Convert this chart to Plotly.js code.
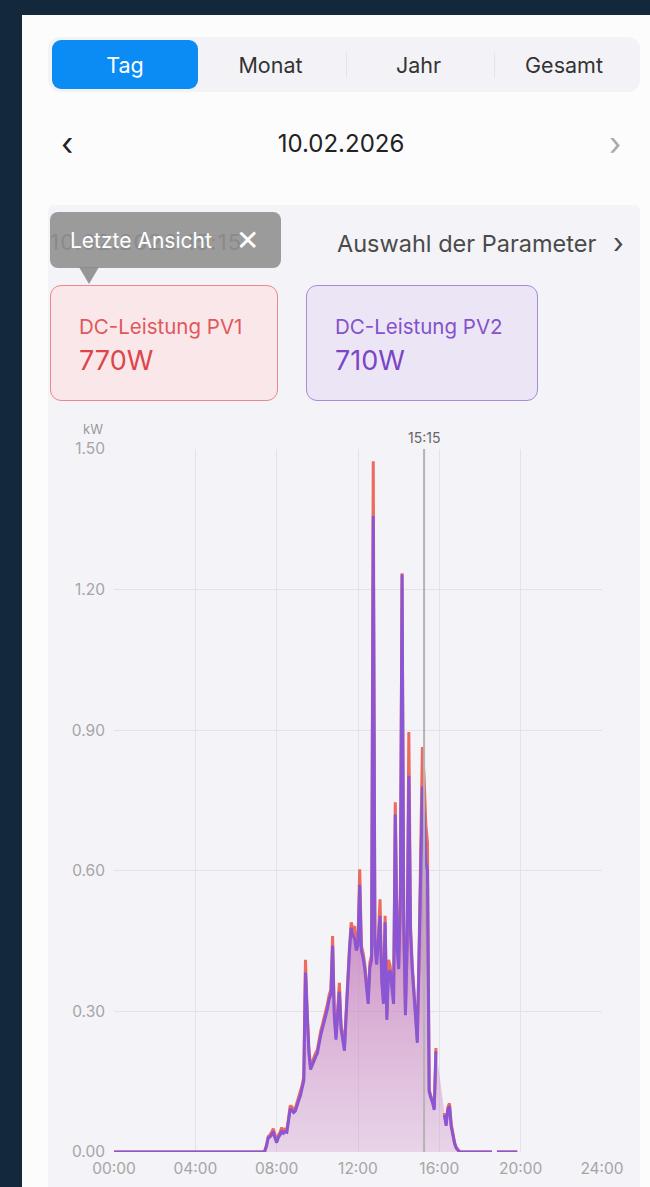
<!DOCTYPE html>
<html>
<head>
<meta charset="utf-8">
<script src="https://cdn.plot.ly/plotly-3.0.1.min.js"></script>
<style>
  html,body{margin:0;padding:0;}
  body{width:650px;height:1187px;background:#13283a;position:relative;overflow:hidden;font-family:Inter,"Noto Sans",sans-serif;}
  .panel{position:absolute;left:22px;top:15px;width:628px;height:1172px;background:#fcfcfd;}
  .tabs{position:absolute;left:48px;top:37px;width:592px;height:55px;background:#f3f3f7;border-radius:12px;}
  .tab{position:absolute;top:3px;height:49px;line-height:50px;text-align:center;font-size:21.5px;color:#333;}
  .tab.on{background:#0b8cf4;color:#fff;border-radius:9px;}
  .sep{position:absolute;top:15px;width:1px;height:26px;background:#e4e4ea;}
  .date{position:absolute;left:16px;width:650px;top:129px;text-align:center;font-size:24px;color:#222;box-sizing:border-box;}
  .chev{position:absolute;top:124px;font-size:32px;}
  .card{position:absolute;left:48px;top:205px;width:592px;height:982px;background:#f4f3f8;border-radius:6px 6px 0 0;}
  .ghost{position:absolute;left:50px;top:229px;font-size:22px;letter-spacing:1.2px;color:#7d7d7d;}
  .tip{position:absolute;left:50px;top:212px;width:231px;height:56px;background:rgba(140,140,140,0.86);border-radius:8px;}
  .tiparrow{position:absolute;left:79px;top:267px;width:0;height:0;border-left:10px solid transparent;border-right:10px solid transparent;border-top:17px solid rgba(140,140,140,0.9);}
  .tiptext{position:absolute;left:70px;top:228px;font-size:21px;color:#fff;}
  .tipx{position:absolute;left:236px;top:223px;font-size:28px;color:#fff;font-weight:300;}
  .param{position:absolute;left:337px;top:229px;font-size:23.5px;color:#4a4a4a;}
  .pchev{position:absolute;left:613px;top:226px;font-size:28px;color:#4a4a4a;}
  .pcard{position:absolute;top:285px;height:116px;border-radius:11px;box-sizing:border-box;}
  .pv1{left:50px;width:228px;background:#fae7e9;border:1.5px solid #e9898c;}
  .pv2{left:306px;width:232px;background:#ece5f6;border:1.5px solid #a98bd9;}
  .plabel{position:absolute;left:28px;top:28px;font-size:20.5px;}
  .pval{position:absolute;left:28px;top:58px;font-size:27px;}
  #chart{position:absolute;left:48px;top:400px;width:592px;height:787px;}
</style>
</head>
<body>
<div class="panel"></div>
<div class="tabs">
  <div class="tab on" style="left:4px;width:146px;">Tag</div>
  <div class="tab" style="left:150px;width:145px;">Monat</div>
  <div class="sep" style="left:298px;"></div>
  <div class="tab" style="left:298px;width:145px;">Jahr</div>
  <div class="sep" style="left:446px;"></div>
  <div class="tab" style="left:446px;width:140px;">Gesamt</div>
</div>
<div class="chev" style="left:61px;color:#222;">&#x2039;</div>
<div class="date">10.02.2026</div>
<div class="chev" style="left:609px;color:#aaa;">&#x203A;</div>
<div class="card"></div>
<div class="ghost">10.02.2026 15:15</div>
<div class="tip"></div>
<div class="tiparrow"></div>
<div class="tiptext">Letzte Ansicht</div>
<div class="tipx">&#x2715;</div>
<div class="param">Auswahl der Parameter</div>
<div class="pchev">&#x203A;</div>
<div class="pcard pv1"><div class="plabel" style="color:#e0585c;">DC-Leistung PV1</div><div class="pval" style="color:#de4549;">770W</div></div>
<div class="pcard pv2"><div class="plabel" style="color:#8452c9;">DC-Leistung PV2</div><div class="pval" style="color:#7b45c4;">710W</div></div>
<div id="chart"></div>
<script>
// time of day (HH:MM)
const times = ["00:00","07:20","07:25","07:30","07:35","07:40","07:45","07:50","07:55",
"08:00","08:05","08:10","08:15","08:20","08:25","08:30","08:35","08:40","08:45","08:50","08:55",
"09:00","09:05","09:10","09:15","09:20","09:25","09:30","09:35","09:40","09:45","09:50","09:55",
"10:00","10:05","10:10","10:15","10:20","10:25","10:30","10:35","10:40","10:45","10:50","10:55",
"11:00","11:05","11:10","11:15","11:20","11:25","11:30","11:35","11:40","11:45","11:50","11:55",
"12:00","12:05","12:10","12:15","12:20","12:25","12:30","12:35","12:40","12:45","12:50","12:55",
"13:00","13:05","13:10","13:15","13:20","13:25","13:30","13:35","13:40","13:45","13:50","13:55",
"14:00","14:05","14:10","14:15","14:20","14:25","14:30","14:35","14:40","14:45","14:50","14:55",
"15:00","15:05","15:10","15:15","15:20","15:25","15:30","15:35","15:40","15:45","15:50","15:55",
"16:00","16:05","16:10","16:15","16:20","16:25","16:30","16:35","16:40","16:45","16:50","16:55",
"17:00","18:35","18:40","18:50","19:50"];
// DC-Leistung PV1 (kW)
const pv1 = [0,0,0.003,0.015,0.033,0.036,0.042,0.05,0.036,
0.024,0.036,0.042,0.052,0.045,0.049,0.047,0.072,0.099,0.096,0.09,0.093,
0.106,0.116,0.127,0.142,0.16,0.41,0.30,0.222,0.183,0.193,0.204,0.211,
0.218,0.242,0.258,0.272,0.286,0.30,0.316,0.336,0.346,0.461,0.30,0.248,
0.30,0.361,0.272,0.247,0.225,0.30,0.38,0.44,0.49,0.475,0.482,0.44,
0.45,0.603,0.44,0.425,0.40,0.36,0.325,0.404,0.42,1.474,0.45,0.411,
0.46,0.539,0.375,0.325,0.504,0.29,0.41,0.397,0.36,0.325,0.746,0.497,
0.40,0.55,1.235,0.497,0.30,0.45,0.896,0.482,0.40,0.34,0.28,0.24,
0.42,0.66,0.864,0.80,0.70,0.66,0.133,0.12,0.11,0.094,0.222,null,
null,null,null,0.083,0.06,0.095,0.104,0.06,0.04,0.02,0.01,0.004,
0,0,null,0,0];
// DC-Leistung PV2 (kW)
const pv2 = [0,0,0.002,0.012,0.03,0.032,0.036,0.044,0.03,
0.02,0.031,0.036,0.046,0.04,0.043,0.042,0.066,0.092,0.089,0.084,0.087,
0.1,0.11,0.12,0.134,0.152,0.383,0.285,0.212,0.176,0.186,0.196,0.203,
0.21,0.233,0.249,0.263,0.277,0.29,0.306,0.326,0.336,0.44,0.29,0.24,
0.29,0.342,0.262,0.238,0.216,0.29,0.37,0.43,0.478,0.462,0.455,0.43,
0.44,0.57,0.43,0.414,0.39,0.35,0.316,0.393,0.41,1.357,0.44,0.40,
0.45,0.504,0.365,0.316,0.49,0.282,0.383,0.387,0.35,0.316,0.72,0.44,
0.39,0.54,1.232,0.485,0.292,0.44,0.803,0.47,0.39,0.332,0.272,0.233,
0.41,0.62,0.78,0.72,0.62,0.60,0.128,0.115,0.105,0.09,0.215,null,
null,null,null,0.079,0.056,0.09,0.098,0.055,0.036,0.018,0.008,0.003,
0,0,null,0,0];
const xTickVals = [0,4,8,12,16,20,24];
const xTickText = ["00:00","04:00","08:00","12:00","16:00","20:00","24:00"];
const yTickVals = [0,0.3,0.6,0.9,1.2,1.5];
const cursorTime = "15:15";

const toH = s => { const p = s.split(":"); return (+p[0]) + (+p[1])/60; };
const hx = times.map(toH);

const traces = [
  {x: hx, y: pv1, type:"scatter", mode:"lines", name:"DC-Leistung PV1",
   line:{color:"#ec6a5e", width:3}, connectgaps:false,
   fill:"tozeroy",
   fillgradient:{type:"vertical", start:0, stop:0.5,
     colorscale:[[0,"rgba(208,150,200,0.34)"],[1,"rgba(194,118,184,0.8)"]]}},
  {x: hx, y: pv2, type:"scatter", mode:"lines", name:"DC-Leistung PV2",
   line:{color:"#8a56d4", width:3}, connectgaps:false}
];
const ch = toH(cursorTime);
const layout = {
  width:592, height:787,
  margin:{l:66, r:38, t:49, b:35},
  paper_bgcolor:"rgba(0,0,0,0)", plot_bgcolor:"rgba(0,0,0,0)",
  showlegend:false,
  font:{family:"Inter, sans-serif", color:"#a5a5a5", size:15},
  xaxis:{range:[0,24], tickvals:xTickVals, ticktext:xTickText, showgrid:true,
    gridcolor:"#e3e1e9", gridwidth:1, zeroline:false, showline:false, ticks:"",
    ticklabelstandoff:5, tickfont:{size:15.5, color:"#a5a5a5"}, fixedrange:true},
  yaxis:{range:[0,1.5], tickvals:yTickVals, tickformat:".2f", showgrid:true,
    gridcolor:"#e3e1e9", gridwidth:1, zeroline:false, showline:false, ticks:"",
    ticklabelstandoff:8, tickfont:{size:15.5, color:"#a5a5a5"}, fixedrange:true},
  shapes:[{type:"line", xref:"x", yref:"paper", x0:ch, x1:ch, y0:0, y1:1,
    line:{color:"#b4b4b4", width:2}, layer:"above"}],
  annotations:[
    {xref:"x", yref:"paper", x:ch, y:1, yshift:22, text:cursorTime, showarrow:false,
     font:{size:14, color:"#666"}},
    {xref:"paper", yref:"paper", x:0, y:1, xshift:-9, yshift:30, xanchor:"right", text:"kW",
     showarrow:false, font:{size:13, color:"#999"}}
  ]
};
Plotly.newPlot("chart", traces, layout, {staticPlot:true, displayModeBar:false});
</script>
</body>
</html>
